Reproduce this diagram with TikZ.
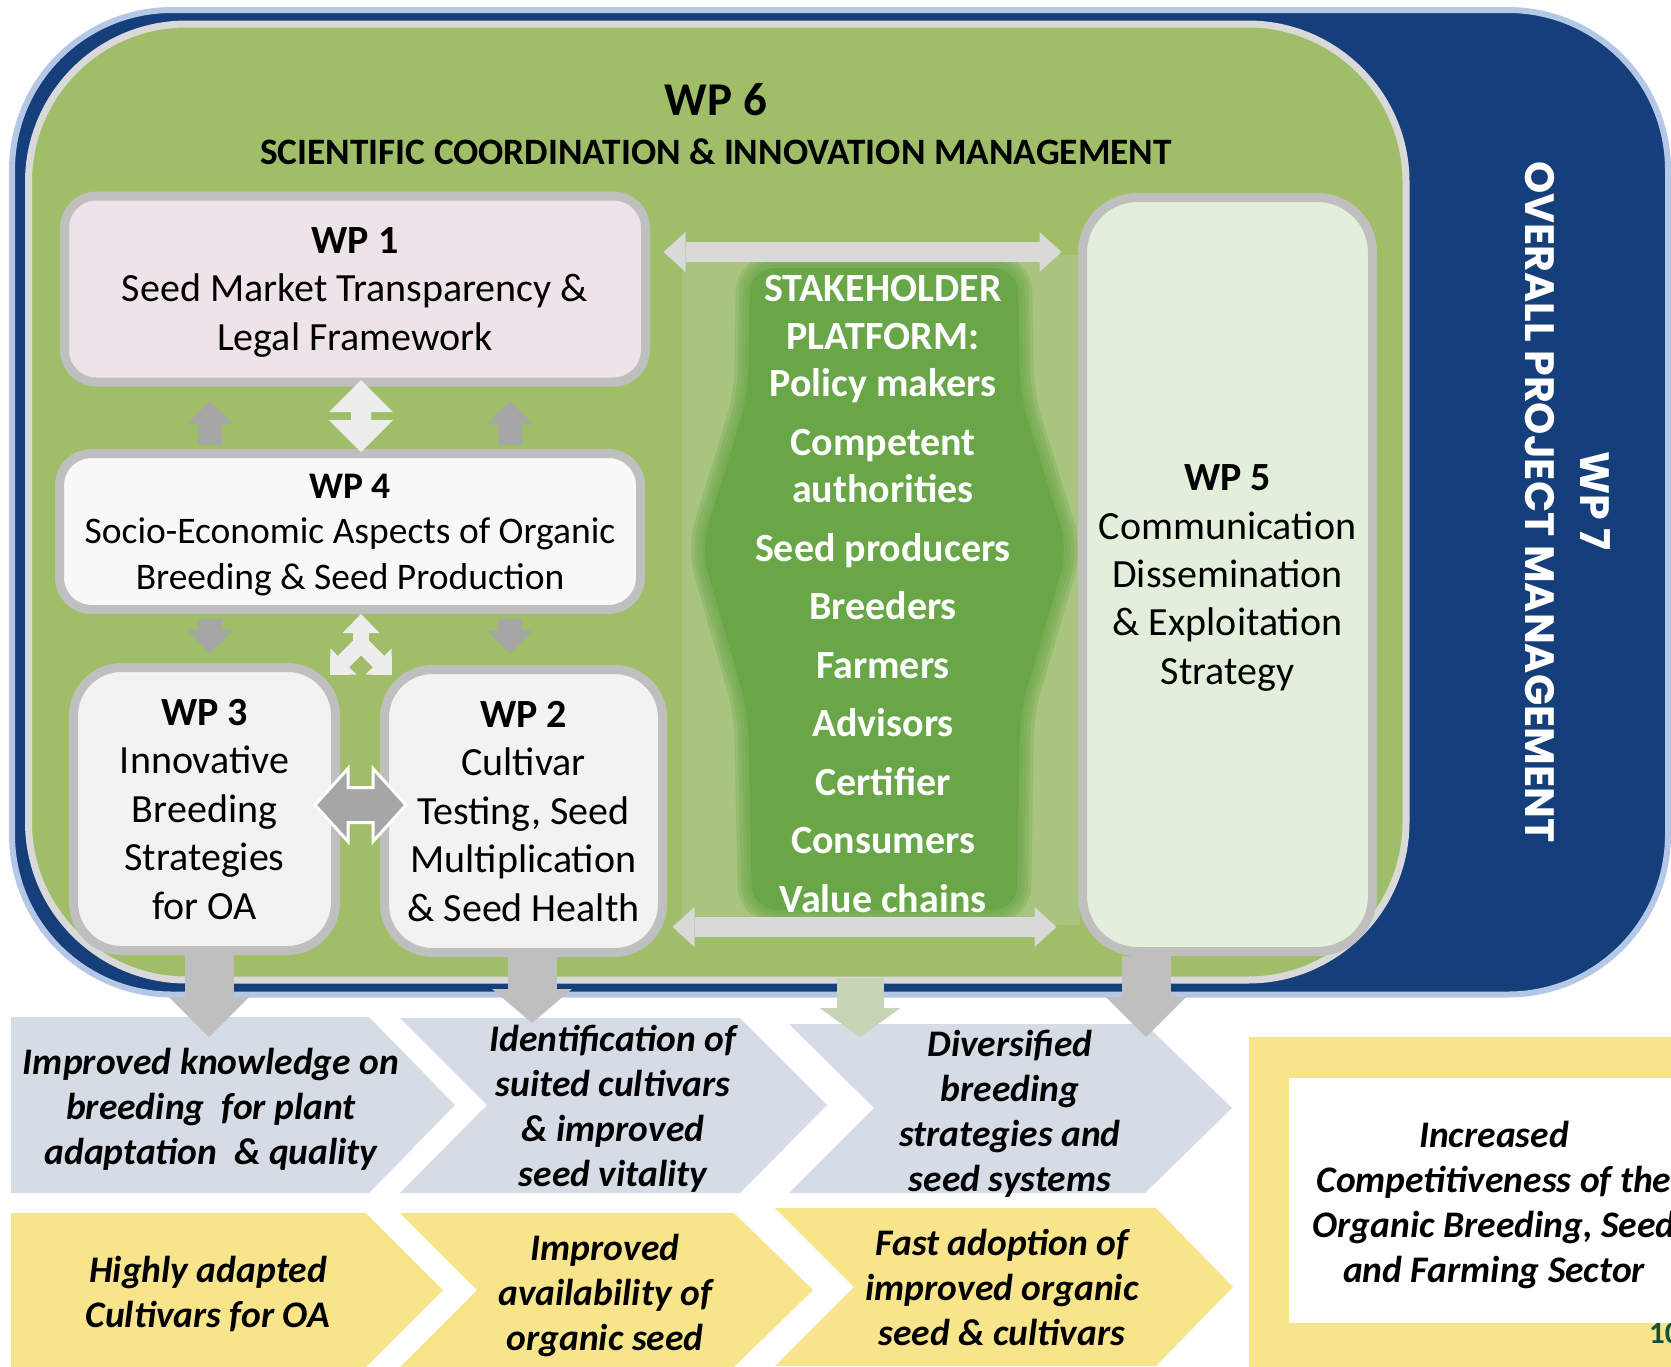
\documentclass[tikz,border=0pt]{standalone}
\usepackage{fontspec}
\setmainfont{Carlito}
\newfontfamily\mgmtfont{Poppins}
\usetikzlibrary{positioning}
\usetikzlibrary{arrows.meta}

\definecolor{frameblue}{RGB}{20,63,122}
\definecolor{framelight}{RGB}{180,199,231}
\definecolor{framegray}{RGB}{217,217,217}
\definecolor{wpgreen}{RGB}{160,189,104}
\definecolor{boxgray}{RGB}{191,191,191}
\definecolor{wpone}{RGB}{238,227,232}
\definecolor{wpfour}{RGB}{248,248,248}
\definecolor{wptwo}{RGB}{242,242,242}
\definecolor{wpfive}{RGB}{226,239,218}
\definecolor{arrowdark}{RGB}{166,166,166}
\definecolor{arrowlight}{RGB}{237,237,237}
\definecolor{arrowmid}{RGB}{217,217,217}
\definecolor{arrowdown}{RGB}{191,191,191}
\definecolor{arrowgreen}{RGB}{199,212,182}
\definecolor{platlight}{RGB}{168,196,126}
\definecolor{platdark}{RGB}{104,166,72}
\definecolor{chevblue}{RGB}{214,220,229}
\definecolor{chevyellow}{RGB}{248,229,139}
\definecolor{pagegreen}{RGB}{16,82,64}

\tikzset{
    wpnode/.style = {rectangle, rounded corners=32pt, line width=9pt, draw=boxgray, align=center, inner sep=0pt, text depth=0pt, text=black, font=\fontsize{40}{48.5}\selectfont},
    wpnoder/.style = {wpnode, fill=wpone},
    wpnodew/.style = {wpnode, fill=wpfour, font=\fontsize{37.5}{45.5}\selectfont},
    wpnodeg/.style = {wpnode, fill=wptwo, rounded corners=48pt, font=\fontsize{40}{48.5}\selectfont},
    wpnodel/.style = {wpnode, fill=wpfive, rounded corners=55pt, font=\fontsize{40}{48.3}\selectfont},
    wpsixarea/.style = {line width=7pt, draw=framegray, fill=wpgreen, rounded corners=158pt},
    wpsevenarea/.style = {line width=6pt, draw=framelight, fill=frameblue, rounded corners=160pt},
    titlebig/.style = {inner sep=0pt, font=\fontsize{47}{56}\selectfont\bfseries},
    titlesub/.style = {inner sep=0pt, font=\fontsize{37.3}{44}\selectfont\bfseries},
    mgmttext/.style = {inner sep=0pt, text=white, rotate=-90, font=\mgmtfont\fontsize{41}{49}\selectfont\bfseries},
    plattext/.style = {align=center, inner sep=0pt, text depth=0pt, text=white, font=\fontsize{40}{47.5}\selectfont\bfseries},
    outtext/.style = {align=center, inner sep=0pt, text depth=0pt, text=black, font=\fontsize{37.5}{45}\selectfont\bfseries\itshape},
    chevb/.style = {fill=chevblue},
    chevy/.style = {fill=chevyellow},
    blur/.style = {draw=platdark, opacity=0.28, rounded corners=25pt},
    edged/.style = {draw=arrowdark, line width=24pt, -{Triangle[length=23pt, width=46pt, line width=0pt]}},
    edgel/.style = {fill=arrowlight},
    edgem/.style = {fill=arrowdark, draw=white, line width=3pt},
    edgef/.style = {draw=arrowlight, line width=16pt, line cap=round, -{Triangle[length=19pt, width=37pt, line width=0pt]}},
    edgeh/.style = {draw=arrowmid, line width=20pt, {Triangle[length=22pt, width=40pt, line width=0pt]}-{Triangle[length=22pt, width=40pt, line width=0pt]}},
    edgeo/.style = {draw=arrowdown, line width=49pt, -{Triangle[length=40pt, width=80pt, line width=0pt]}},
    edgeog/.style = {draw=arrowgreen, line width=47pt, -{Triangle[length=29pt, width=81pt, line width=0pt]}}
}

\begin{document}
\begin{tikzpicture}[x=1pt, y=-1pt]
  \useasboundingbox (0,0) rectangle (1671,1366);
  \clip (0,0) rectangle (1671,1366);
  \fill[white] (0,0) rectangle (1671,1366);

  % WP 7 frame and WP 6 area
  \draw[wpsevenarea] (12,10) rectangle (1668,994.5);
  \draw[wpsixarea] (28.5,24) rectangle (1406,980);
  \node[mgmttext] (wp7) at (1595,501) {WP 7};
  \node[mgmttext] (wp7sub) at (1540,502) {OVERALL PROJECT MANAGEMENT};
  \node[titlebig] (wp6) at (716,100) {WP 6};
  \node[titlesub] (wp6sub) at (716,151.5) {SCIENTIFIC COORDINATION \& INNOVATION MANAGEMENT};

  % stakeholder platform
  \fill[platlight] (682,255) rectangle (1080,925);
  \foreach \w in {28,21,14,7}
    \draw[blur, line width=\w pt] (750,268) -- (1018,268) -- (1020,395) -- (1068,549) -- (1020,712) -- (1017,910) -- (752,910) -- (748,712) -- (701,549) -- (748,395) -- cycle;
  \fill[platdark, rounded corners=25pt] (750,268) -- (1018,268) -- (1020,395) -- (1068,549) -- (1020,712) -- (1017,910) -- (752,910) -- (748,712) -- (701,549) -- (748,395) -- cycle;
  \node[plattext] (platform) at (883,594) {STAKEHOLDER\\PLATFORM:\\Policy makers\\[11pt]Competent\\authorities\\[11pt]Seed producers\\[11pt]Breeders\\[11pt]Farmers\\[11pt]Advisors\\[11pt]Certifier\\[11pt]Consumers\\[11pt]Value chains};

  % work packages
  \node[wpnoder, minimum width=581pt, minimum height=186pt] (wp1) at (355,289) {\textbf{WP 1}\\Seed Market Transparency \&\\Legal Framework};
  \node[wpnodew, minimum width=581pt, minimum height=156pt] (wp4) at (350,531.5) {\textbf{WP 4}\\Socio-Economic Aspects of Organic\\Breeding \& Seed Production};
  \node[wpnodeg, minimum width=262pt, minimum height=283pt] (wp3) at (204.5,809) {\textbf{WP 3}\\Innovative\\Breeding\\Strategies\\for OA};
  \node[wpnodeg, minimum width=278pt, minimum height=283pt] (wp2) at (523.5,811) {\textbf{WP 2}\\Cultivar\\Testing, Seed\\Multiplication\\\& Seed Health};
  \node[wpnodel, minimum width=290pt, minimum height=754pt] (wp5) at (1227.5,574.5) {\textbf{WP 5}\\Communication\\Dissemination\\\& Exploitation\\Strategy};

  % links between work packages
  \coordinate (left) at (210,0);
  \coordinate (mid) at (361,0);
  \coordinate (right) at (510,0);
  \coordinate (top) at (0,252);
  \coordinate (bottom) at (0,927);
  \coordinate (pair) at (361,416);
  \coordinate (pairb) at (361,805);
  \draw[edged, shorten <=4.5pt, shorten >=14.5pt] (wp4.north -| left) -- (wp1.south -| left);
  \draw[edged, shorten <=4.5pt, shorten >=14.5pt] (wp4.north -| right) -- (wp1.south -| right);
  \fill[edgel] (pair) ++(0,-36) -- ++(32,32) -- ++(-22,0) -- ++(0,8) -- ++(22,0) -- ++(-32,32) -- ++(-32,-32) -- ++(22,0) -- ++(0,-8) -- ++(-22,0) -- cycle;
  \draw[edged, shorten <=4.5pt, shorten >=10pt] (wp4.south -| left) -- (wp3.north -| left);
  \draw[edged, shorten <=4.5pt, shorten >=11.5pt] (wp4.south -| right) -- (wp2.north -| right);
  \coordinate (fork) at (361,644);
  \coordinate (forkl) at (330,675);
  \coordinate (forkr) at (392,675);
  \draw[edgef] (fork) -- (wp4.south -| mid);
  \draw[edgef] (fork) -- (forkl);
  \draw[edgef] (fork) -- (forkr);
  \filldraw[edgem] (pairb) ++(-46,0) -- ++(33,-36.5) -- ++(0,19) -- ++(25,0) -- ++(0,-19) -- ++(33,36.5) -- ++(-33,36.5) -- ++(0,-19) -- ++(-25,0) -- ++(0,19) -- cycle;
  \draw[edgeh, shorten <=13.5pt, shorten >=16.5pt] (wp1.east |- top) -- (wp5.west |- top);
  \draw[edgeh, shorten <=5.5pt, shorten >=21.5pt] (wp2.east |- bottom) -- (wp5.west |- bottom);

  % results and impacts
  \path[chevb] (11,1017) -- (369,1017) -- (455,1105) -- (369,1193) -- (11,1193) -- cycle;
  \path[chevb] (400,1018) -- (740,1018) -- (827,1105) -- (740,1193) -- (400,1193) -- (487,1105) -- cycle;
  \path[chevb] (789,1024) -- (1145,1024) -- (1232,1108) -- (1145,1193) -- (789,1193) -- (874,1108) -- cycle;
  \path[chevy] (11,1213) -- (366,1213) -- (443,1290) -- (366,1367) -- (11,1367) -- cycle;
  \path[chevy] (400,1213) -- (734,1213) -- (813,1290) -- (734,1367) -- (400,1367) -- (477,1290) -- cycle;
  \path[chevy] (775,1208) -- (1156,1208) -- (1233,1287) -- (1156,1366) -- (775,1366) -- (854,1287) -- cycle;
  \fill[chevyellow] (1249,1037) rectangle (1700,1400);
  \fill[white] (1289,1078) rectangle (1700,1323);

  \node[outtext] (res1) at (211,1106) {Improved knowledge on\\breeding\ \ for plant\\adaptation\ \ \& quality};
  \node[outtext] (res2) at (613,1106) {Identification of\\suited cultivars\\\& improved\\seed vitality};
  \node[outtext] (res3) at (1010,1110.5) {Diversified\\breeding\\strategies and\\seed systems};
  \node[outtext] (imp1) at (208,1292) {Highly adapted\\Cultivars for OA};
  \node[outtext] (imp2) at (605,1292) {Improved\\availability of\\organic seed};
  \node[outtext] (imp3) at (1002,1287.5) {Fast adoption of\\improved organic\\seed \& cultivars};
  \node[outtext] (goal) at (1494,1201.5) {Increased\\Competitiveness of the\\Organic Breeding, Seed\\and Farming Sector};
  \node[anchor=west, inner sep=0pt, text=pagegreen, font=\fontsize{31}{36}\selectfont\bfseries] (page) at (1649,1333) {10};

  % outputs into the results
  \coordinate (out1) at (209,1037);
  \coordinate (out2) at (532,1023);
  \coordinate (out3) at (860,1037);
  \coordinate (out4) at (1146,1037);
  \coordinate (plat) at (860,978);
  \draw[edgeo] (wp3.south -| out1) -- (out1);
  \draw[edgeo, -{Triangle[length=34pt, width=80pt, line width=0pt]}] (wp2.south -| out2) -- (out2);
  \draw[edgeog] (plat) -- (out3);
  \draw[edgeo] (wp5.south -| out4) -- (out4);
\end{tikzpicture}
\end{document}
